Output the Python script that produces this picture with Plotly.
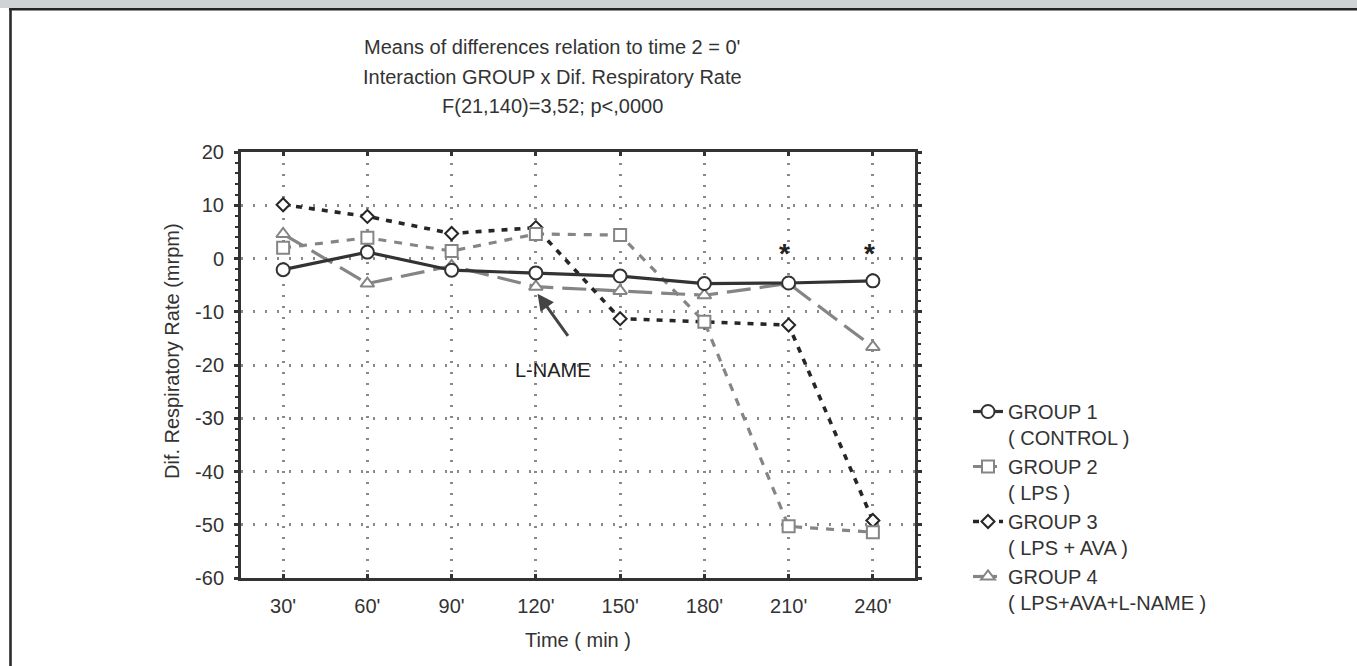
import plotly.graph_objects as go

# ---- data ----
times = [30, 60, 90, 120, 150, 180, 210, 240]
tick_labels = ["30'", "60'", "90'", "120'", "150'", "180'", "210'", "240'"]
y_ticks = [20, 10, 0, -10, -20, -30, -40, -50, -60]
y_tick_labels = ["20", "10", "0", "-10", "-20", "-30", "-40", "-50", "-60"]
group1 = [-2.1, 1.2, -2.2, -2.7, -3.3, -4.7, -4.6, -4.2]
group2 = [2.0, 3.9, 1.4, 4.6, 4.4, -11.9, -50.3, -51.4]
group3 = [10.1, 7.9, 4.7, 5.8, -11.3, -11.9, -12.5, -49.2]
group4 = [4.6, -4.7, -1.4, -5.3, -6.1, -6.9, -4.7, -16.6]
names = ["GROUP 1<br>( CONTROL )", "GROUP 2<br>( LPS )", "GROUP 3<br>( LPS + AVA )",
         "GROUP 4<br>( LPS+AVA+L-NAME )"]
title_lines = ["Means of differences relation to time 2 = 0'",
               "Interaction GROUP x Dif. Respiratory Rate",
               "F(21,140)=3,52; p<,0000"]
star_times = [210, 240]
star_level = 0.9
arrow_tip = (120.6, -6.6)
arrow_tail = (131.8, -14.8)
label_pos = (126.0, -21.0)

W, H = 1357, 666
L, R, T, B = 241, 915, 152, 578
pw, ph = R - L, B - T


def px(x):
    return (x - L) / pw


def py(y):
    return (B - y) / ph


FONT = "Liberation Sans, Arial, sans-serif"
DARK = "#333333"
GRAY = "#858585"

fig = go.Figure()

styles = [
    dict(data=group4, name=names[3], color=GRAY, dash="24px,9px", width=3.2,
         symbol="triangle-up", size=12, rank=4),
    dict(data=group3, name=names[2], color="#262626", dash="6px,7px", width=3.6,
         symbol="diamond", size=10, rank=3),
    dict(data=group2, name=names[1], color=GRAY, dash="8px,8px", width=3.2,
         symbol="square", size=12, rank=2),
    dict(data=group1, name=names[0], color=DARK, dash="solid", width=3.2,
         symbol="circle", size=13, rank=1),
]
for s in styles:
    fig.add_trace(go.Scatter(
        x=times, y=s["data"], name=s["name"], mode="lines+markers",
        line=dict(color=s["color"], width=s["width"], dash=s["dash"]),
        marker=dict(symbol=s["symbol"], size=s["size"],
                    color="white", line=dict(color=s["color"], width=2)),
        legendrank=s["rank"], legendgroup=str(s["rank"]),
    ))

annotations = []
for i, t in enumerate(title_lines):
    annotations.append(dict(text=t, xref="paper", yref="paper", x=px(552),
                            y=py(47 + i * 29.5), showarrow=False, xanchor="center",
                            yanchor="middle", font=dict(size=20, color=DARK, family=FONT)))
annotations.append(dict(text="Dif. Respiratory Rate (mrpm)", xref="paper", yref="paper",
                        x=px(172), y=py(351), textangle=-90, showarrow=False,
                        xanchor="center", yanchor="middle",
                        font=dict(size=20, color=DARK, family=FONT)))
annotations.append(dict(text="Time ( min )", xref="paper", yref="paper",
                        x=px(578), y=py(640), showarrow=False, xanchor="center",
                        yanchor="middle", font=dict(size=20, color=DARK, family=FONT)))
for st in star_times:
    annotations.append(dict(text="<b>*</b>", x=st - 1.3, y=star_level, xref="x", yref="y",
                            showarrow=False, xanchor="center", yanchor="middle",
                            font=dict(size=28, color="#222222", family=FONT)))
annotations.append(dict(text="", x=arrow_tip[0], y=arrow_tip[1], xref="x", yref="y",
                        ax=arrow_tail[0], ay=arrow_tail[1], axref="x", ayref="y",
                        showarrow=True, arrowhead=2, arrowsize=1.1, arrowwidth=3,
                        arrowcolor="#444444", standoff=0))
annotations.append(dict(text="L-NAME", x=label_pos[0], y=label_pos[1], xref="x", yref="y",
                        showarrow=False, xanchor="center", yanchor="middle",
                        font=dict(size=20, color="#222222", family=FONT)))

shapes = [
    dict(type="rect", xref="paper", yref="paper", x0=px(0), x1=px(W), y0=py(8), y1=py(0),
         fillcolor="#d1d2d4", line=dict(width=0), layer="below"),
    dict(type="line", xref="paper", yref="paper", x0=px(9), x1=px(W), y0=py(9.3), y1=py(9.3),
         line=dict(color="#252525", width=2.6)),
    dict(type="line", xref="paper", yref="paper", x0=px(10.5), x1=px(10.5), y0=py(8), y1=py(H),
         line=dict(color="#2a2a2a", width=2.6)),
]

fig.update_layout(
    width=W, height=H,
    margin=dict(l=L, r=W - R, t=T, b=H - B, autoexpand=False),
    paper_bgcolor="white", plot_bgcolor="white",
    font=dict(family=FONT, size=20, color=DARK),
    showlegend=True,
    legend=dict(x=px(968), y=py(392), xanchor="left", yanchor="top",
                traceorder="grouped", tracegroupgap=0, valign="top",
                font=dict(size=20, color=DARK, family=FONT),
                bgcolor="rgba(0,0,0,0)", itemwidth=30),
    annotations=annotations, shapes=shapes,
    xaxis=dict(range=[15, 255], tickvals=times, ticktext=tick_labels,
               showline=True, linecolor=DARK, linewidth=3, mirror="ticks",
               ticks="inside", ticklen=4, tickwidth=3, tickcolor=DARK,
               showgrid=True, gridcolor="#8a8a8a", gridwidth=2.5, griddash="2px,9px",
               zeroline=False, ticklabelstandoff=8,
               tickfont=dict(size=20, color=DARK, family=FONT)),
    yaxis=dict(range=[-60, 20], tickvals=y_ticks, ticktext=y_tick_labels,
               showline=True, linecolor=DARK, linewidth=3, mirror="ticks",
               ticks="outside", ticklen=4, tickwidth=3, tickcolor=DARK,
               minor=dict(dtick=2, ticks="outside", ticklen=3, tickwidth=2,
                          tickcolor=DARK, showgrid=False),
               showgrid=True, gridcolor="#8a8a8a", gridwidth=2.5, griddash="2px,10px",
               zeroline=False, ticklabelstandoff=6,
               tickfont=dict(size=20, color=DARK, family=FONT)),
)

fig.write_html("out.html", config={"displayModeBar": False},
               post_script="document.body.style.margin='0';")
